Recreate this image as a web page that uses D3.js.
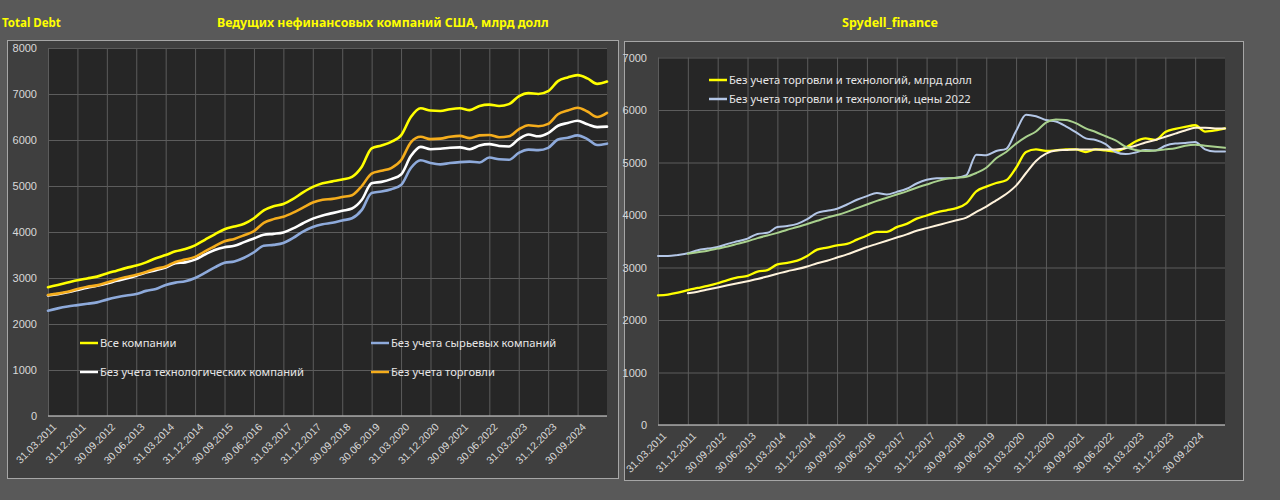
<!DOCTYPE html>
<html><head><meta charset="utf-8">
<script src="https://cdn.jsdelivr.net/npm/d3@7"></script>
<style>
html,body{margin:0;padding:0;background:#595959;}
svg{display:block;}
</style></head>
<body>
<svg id="c" width="1280" height="500"></svg>
<script>
// ---------- DATA ----------
const categories = [
 "31.03.2011","30.06.2011","30.09.2011","31.12.2011",
 "31.03.2012","30.06.2012","30.09.2012","31.12.2012",
 "31.03.2013","30.06.2013","30.09.2013","31.12.2013",
 "31.03.2014","30.06.2014","30.09.2014","31.12.2014",
 "31.03.2015","30.06.2015","30.09.2015","31.12.2015",
 "31.03.2016","30.06.2016","30.09.2016","31.12.2016",
 "31.03.2017","30.06.2017","30.09.2017","31.12.2017",
 "31.03.2018","30.06.2018","30.09.2018","31.12.2018",
 "31.03.2019","30.06.2019","30.09.2019","31.12.2019",
 "31.03.2020","30.06.2020","30.09.2020","31.12.2020",
 "31.03.2021","30.06.2021","30.09.2021","31.12.2021",
 "31.03.2022","30.06.2022","30.09.2022","31.12.2022",
 "31.03.2023","30.06.2023","30.09.2023","31.12.2023",
 "31.03.2024","30.06.2024","30.09.2024","31.12.2024",
 "31.03.2025","30.06.2025"];

const tickLabels = ["31.03.2011","31.12.2011","30.09.2012","30.06.2013","31.03.2014","31.12.2014",
 "30.09.2015","30.06.2016","31.03.2017","31.12.2017","30.09.2018","30.06.2019","31.03.2020",
 "31.12.2020","30.09.2021","30.06.2022","31.03.2023","31.12.2023","30.09.2024"];

const leftYTicks = [0,1000,2000,3000,4000,5000,6000,7000,8000];
const rightYTicks = [0,1000,2000,3000,4000,5000,6000,7000];

// Left chart series (bn USD)
const allCompanies = [2800,2850,2900,2950,2990,3030,3100,3160,3220,3270,
 3340,3430,3500,3580,3630,3710,3830,3950,4060,4120,
 4180,4300,4470,4560,4610,4720,4860,4980,5060,5100,
 5140,5200,5420,5820,5880,5960,6100,6500,6690,6640,
 6630,6670,6690,6650,6740,6770,6740,6780,6950,7020,
 7000,7060,7280,7360,7410,7340,7220,7270];
const exRaw = [2290,2340,2380,2410,2440,2470,2530,2580,2620,2650,
 2720,2760,2850,2900,2930,3000,3110,3230,3330,3360,
 3440,3560,3700,3720,3760,3870,4010,4110,4170,4200,
 4250,4300,4480,4850,4880,4930,5020,5390,5560,5500,
 5470,5500,5520,5530,5510,5620,5580,5570,5720,5790,
 5780,5830,6010,6050,6100,6020,5890,5920];
const exTech = [2620,2650,2690,2740,2790,2830,2880,2940,2990,3050,
 3120,3170,3230,3320,3340,3400,3510,3610,3670,3700,
 3780,3860,3940,3960,3990,4080,4190,4290,4360,4410,
 4460,4510,4700,5060,5090,5150,5250,5650,5850,5800,
 5810,5830,5840,5800,5880,5910,5870,5860,6020,6120,
 6080,6150,6310,6370,6420,6340,6280,6290];
const exTrade = [2630,2660,2700,2760,2810,2840,2900,2970,3020,3070,
 3130,3200,3250,3350,3400,3460,3580,3690,3800,3850,
 3930,4020,4200,4280,4330,4420,4530,4640,4700,4720,
 4760,4800,5000,5270,5330,5390,5560,5950,6070,6020,
 6030,6070,6090,6040,6100,6110,6060,6080,6230,6320,
 6300,6350,6560,6640,6700,6620,6500,6590];

// Right chart series
const exTradeTechNominal = [2470,2485,2520,2570,2610,2650,2700,2760,2810,2840,
 2920,2950,3060,3090,3130,3220,3340,3380,3420,3450,
 3530,3610,3680,3680,3770,3830,3930,3990,4050,4090,
 4130,4220,4450,4540,4610,4660,4900,5200,5250,5220,
 5230,5250,5250,5200,5250,5230,5210,5280,5400,5460,
 5430,5580,5640,5680,5710,5590,5610,5650];
const exTradeTechReal = [3220,3220,3240,3270,3330,3360,3390,3450,3500,3550,
 3640,3660,3770,3790,3830,3920,4040,4080,4120,4200,
 4290,4360,4420,4390,4440,4500,4600,4670,4700,4700,
 4710,4760,5150,5140,5220,5260,5600,5910,5880,5810,
 5780,5690,5580,5460,5430,5350,5200,5160,5190,5240,
 5230,5320,5360,5370,5390,5250,5210,5210];
const trendNominal = [null,null,null,2510,2540,2580,2620,2660,2700,2740,
 2780,2830,2880,2930,2970,3020,3080,3130,3190,3250,
 3320,3390,3450,3510,3570,3630,3700,3750,3800,3850,
 3900,3950,4060,4160,4280,4400,4560,4800,5030,5170,
 5230,5240,5250,5250,5250,5250,5250,5270,5320,5380,
 5430,5490,5550,5610,5660,5660,5650,5650];
const trendReal = [null,null,null,3260,3290,3320,3360,3400,3450,3500,
 3560,3610,3660,3720,3770,3830,3890,3950,4000,4060,
 4130,4200,4270,4330,4390,4450,4520,4580,4640,4690,
 4710,4730,4800,4900,5080,5200,5360,5490,5590,5760,
 5820,5810,5750,5650,5580,5500,5420,5300,5240,5220,
 5230,5250,5270,5320,5340,5320,5300,5280];

const leftSeries = [
  {name:"Все компании", values:allCompanies, color:"#ffff00"},
  {name:"Без учета сырьевых компаний", values:exRaw, color:"#8eaadb"},
  {name:"Без учета технологических компаний", values:exTech, color:"#ffffff"},
  {name:"Без учета торговли", values:exTrade, color:"#f5ad1c"}
];
const rightSeries = [
  {name:"Без учета торговли и технологий, млрд долл", values:exTradeTechNominal, color:"#ffff00", w:2.3},
  {name:"Без учета торговли и технологий, цены 2022", values:exTradeTechReal, color:"#b4c7e7", w:2},
  {name:null, values:trendNominal, color:"#fff3dc", w:2},
  {name:null, values:trendReal, color:"#a9d18e", w:2}
];

// ---------- DRAW ----------
const svg = d3.select("#c");
const FONT = "'Noto Sans', 'Open Sans', sans-serif";
const NUMFONT = "'Liberation Sans Narrow', 'Liberation Sans', sans-serif";

// titles
svg.append("text").attr("x",2).attr("y",27).text("Total Debt")
  .attr("fill","#ffff00").attr("font-family",FONT).attr("font-weight","bold").attr("font-size",11.5);
svg.append("text").attr("x",217).attr("y",27).text("Ведущих нефинансовых компаний США, млрд долл")
  .attr("fill","#ffff00").attr("font-family",FONT).attr("font-weight","bold").attr("font-size",12.3);
svg.append("text").attr("x",890).attr("y",27).attr("text-anchor","middle").text("Spydell_finance")
  .attr("fill","#ffff00").attr("font-family",FONT).attr("font-weight","bold").attr("font-size",12.5);

function panel(x,y,w,h){
  svg.append("rect").attr("x",x+0.5).attr("y",y+0.5).attr("width",w).attr("height",h)
    .attr("fill","#3f3f3f").attr("stroke","#a6a6a6").attr("stroke-width",1);
}
panel(7,40,611,438);
panel(624,41,619,439);

function chart(cfg){
  const {x0,x1,yTop,yBot,yMax,yTicks,series,labelRight,lw} = cfg;
  const g = svg.append("g");
  g.append("rect").attr("x",x0).attr("y",yTop).attr("width",x1-x0).attr("height",yBot-yTop).attr("fill","#262626");
  const x = d3.scalePoint().domain(categories).range([x0,x1]);
  const y = d3.scaleLinear().domain([0,yMax]).range([yBot,yTop]);

  // y axis with horizontal gridlines
  const ya = g.append("g").attr("transform",`translate(${x0},0)`)
    .call(d3.axisLeft(y).tickValues(yTicks).tickSize(-(x1-x0)).tickPadding(x0-labelRight).tickFormat(d3.format("d")));
  ya.select(".domain").remove();
  ya.selectAll("line").attr("stroke","#5c5c5c").attr("stroke-width",1);
  ya.selectAll("text").attr("fill","#d9d9d9").attr("font-family",NUMFONT).attr("font-size",11);

  // x axis with vertical gridlines
  const xa = g.append("g").attr("transform",`translate(0,${yBot})`)
    .call(d3.axisBottom(x).tickValues(tickLabels).tickSize(-(yBot-yTop)));
  xa.select(".domain").remove();
  xa.selectAll("line").attr("stroke","#5c5c5c").attr("stroke-width",1);
  xa.selectAll("text").attr("fill","#d9d9d9").attr("font-family",NUMFONT).attr("font-size",10.5)
    .attr("text-anchor","end").attr("x",0).attr("y",0).attr("dy","0.35em")
    .attr("transform","translate(6,9) rotate(-45)");
  g.append("line").attr("x1",x0).attr("x2",x1).attr("y1",yBot).attr("y2",yBot)
    .attr("stroke","#a6a6a6").attr("stroke-width",1.5);

  const line = d3.line().defined(d=>d[1]!=null)
    .x(d=>x(d[0])).y(d=>y(d[1])).curve(d3.curveMonotoneX);
  series.forEach(s=>{
    g.append("path").datum(categories.map((c,i)=>[c,s.values[i]]))
      .attr("d",line).attr("fill","none").attr("stroke",s.color)
      .attr("stroke-width",s.w||lw).attr("stroke-linejoin","round").attr("stroke-linecap","round");
  });
  return g;
}

chart({x0:48,x1:607,yTop:48,yBot:416,yMax:8000,yTicks:leftYTicks,series:leftSeries,labelRight:37,lw:2.6});
chart({x0:658,x1:1225,yTop:57.5,yBot:425,yMax:7000,yTicks:rightYTicks,series:rightSeries,labelRight:647,lw:2});

// legends
function legendItem(x,y,s){
  svg.append("line").attr("x1",x).attr("x2",x+18).attr("y1",y).attr("y2",y)
    .attr("stroke",s.color).attr("stroke-width",2.5);
  svg.append("text").attr("x",x+20).attr("y",y+4).text(s.name)
    .attr("fill","#e6e6e6").attr("font-family",FONT).attr("font-size",11.2);
}
legendItem(80,343,leftSeries[0]);
legendItem(80,372,leftSeries[2]);
legendItem(371,343,leftSeries[1]);
legendItem(371,372,leftSeries[3]);
legendItem(709,80,rightSeries[0]);
legendItem(709,99,rightSeries[1]);
</script>
</body></html>
